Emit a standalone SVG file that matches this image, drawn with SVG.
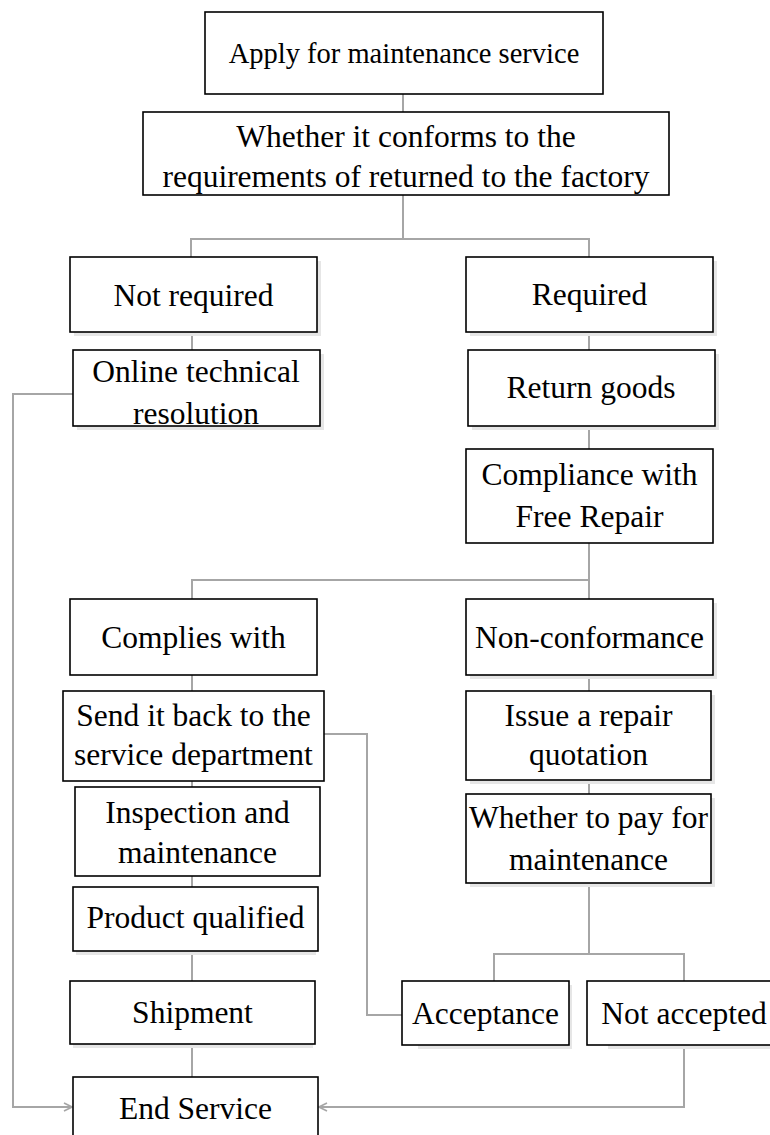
<svg xmlns="http://www.w3.org/2000/svg" width="770" height="1135" viewBox="0 0 770 1135">
<style>
.box{fill:#fff;stroke:#000;stroke-width:1.6}
.sh{fill:#e6e6e6;stroke:none}
.t{font-family:"Liberation Serif","Times New Roman",serif;font-size:31.5px;text-anchor:middle;fill:#000}
.c{fill:none;stroke:#a6a6a6;stroke-width:2}
</style>
<defs>
<marker id="chev" markerWidth="10" markerHeight="10" refX="9" refY="5" orient="auto" markerUnits="userSpaceOnUse">
<path d="M1,1 L9,5 L1,9" fill="none" stroke="#a6a6a6" stroke-width="1.6"/>
</marker>
</defs>
<rect width="770" height="1135" fill="#fff"/>
<g id="connectors">
<path class="c" d="M403,94 V112"/>
<path class="c" d="M403,195 V239"/>
<path class="c" d="M191,257 V239 H589 V257"/>
<path class="c" d="M192,332 V350"/>
<path class="c" d="M589,332 V350"/>
<path class="c" d="M589,426 V449"/>
<path class="c" d="M589,543 V599"/>
<path class="c" d="M192,599 V580 H589"/>
<path class="c" d="M192,675 V691"/>
<path class="c" d="M589,675 V691"/>
<path class="c" d="M192,781 V787"/>
<path class="c" d="M589,780 V794"/>
<path class="c" d="M192,876 V887"/>
<path class="c" d="M192,951 V981"/>
<path class="c" d="M192,1044 V1077"/>
<path class="c" d="M589,883 V954"/>
<path class="c" d="M494,981 V954 H684 V981"/>
<path class="c" d="M324,734 H367 V1015 H402"/>
<path class="c" d="M73,394 H13 V1107 H72" marker-end="url(#chev)"/>
<path class="c" d="M684,1045 V1107 H319" marker-end="url(#chev)"/>
</g>
<g id="n-apply">
<rect class="box" x="205" y="12" width="398" height="82"/>
<text class="t" x="404" y="63" style="font-size:28.5px">Apply for maintenance service</text>
</g>
<g id="n-conform">
<rect class="box" x="143" y="112" width="526" height="83"/>
<text class="t" x="406" y="147">Whether it conforms to the</text>
<text class="t" x="406" y="187">requirements of returned to the factory</text>
</g>
<g id="n-notreq">
<rect class="sh" x="74" y="261" width="247" height="75"/>
<rect class="box" x="70" y="257" width="247" height="75"/>
<text class="t" x="193.5" y="306">Not required</text>
</g>
<g id="n-required">
<rect class="sh" x="470" y="261" width="247" height="75"/>
<rect class="box" x="466" y="257" width="247" height="75"/>
<text class="t" x="589.5" y="305">Required</text>
</g>
<g id="n-online">
<rect class="sh" x="77" y="354" width="247" height="76"/>
<rect class="box" x="73" y="350" width="247" height="76"/>
<text class="t" x="196" y="382">Online technical</text>
<text class="t" x="196" y="424">resolution</text>
</g>
<g id="n-return">
<rect class="sh" x="472" y="354" width="247" height="76"/>
<rect class="box" x="468" y="350" width="247" height="76"/>
<text class="t" x="591" y="398">Return goods</text>
</g>
<g id="n-compliance">
<rect class="box" x="466" y="449" width="247" height="94"/>
<text class="t" x="589.5" y="485">Compliance with</text>
<text class="t" x="589.5" y="527">Free Repair</text>
</g>
<g id="n-complies">
<rect class="box" x="70" y="599" width="247" height="76"/>
<text class="t" x="193.5" y="648">Complies with</text>
</g>
<g id="n-nonconf">
<rect class="sh" x="470" y="603" width="247" height="76"/>
<rect class="box" x="466" y="599" width="247" height="76"/>
<text class="t" x="589.5" y="648">Non-conformance</text>
</g>
<g id="n-send">
<rect class="box" x="63" y="691" width="261" height="90"/>
<text class="t" x="193.5" y="726">Send it back to the</text>
<text class="t" x="193.5" y="765">service department</text>
</g>
<g id="n-issue">
<rect class="sh" x="470" y="695" width="245" height="89"/>
<rect class="box" x="466" y="691" width="245" height="89"/>
<text class="t" x="588.5" y="726">Issue a repair</text>
<text class="t" x="588.5" y="765">quotation</text>
</g>
<g id="n-inspection">
<rect class="box" x="75" y="787" width="245" height="89"/>
<text class="t" x="197.5" y="823">Inspection and</text>
<text class="t" x="197.5" y="863">maintenance</text>
</g>
<g id="n-whetherpay">
<rect class="sh" x="470" y="798" width="245" height="89"/>
<rect class="box" x="466" y="794" width="245" height="89"/>
<text class="t" x="588.5" y="828">Whether to pay for</text>
<text class="t" x="588.5" y="870">maintenance</text>
</g>
<g id="n-product">
<rect class="sh" x="76" y="891" width="240" height="64"/>
<rect class="box" x="73" y="887" width="245" height="64"/>
<text class="t" x="195.5" y="928">Product qualified</text>
</g>
<g id="n-shipment">
<rect class="sh" x="73" y="985" width="240" height="63"/>
<rect class="box" x="70" y="981" width="245" height="63"/>
<text class="t" x="192.5" y="1023">Shipment</text>
</g>
<g id="n-acceptance">
<rect class="sh" x="418" y="985" width="154" height="64"/>
<rect class="box" x="402" y="981" width="167" height="64"/>
<text class="t" x="485.5" y="1024">Acceptance</text>
</g>
<g id="n-notaccepted">
<rect class="sh" x="608" y="985" width="170" height="64"/>
<rect class="box" x="587" y="981" width="194" height="64"/>
<text class="t" x="684" y="1024">Not accepted</text>
</g>
<g id="n-end">
<rect class="box" x="73" y="1077" width="245" height="70"/>
<text class="t" x="195.5" y="1119">End Service</text>
</g>
</svg>
